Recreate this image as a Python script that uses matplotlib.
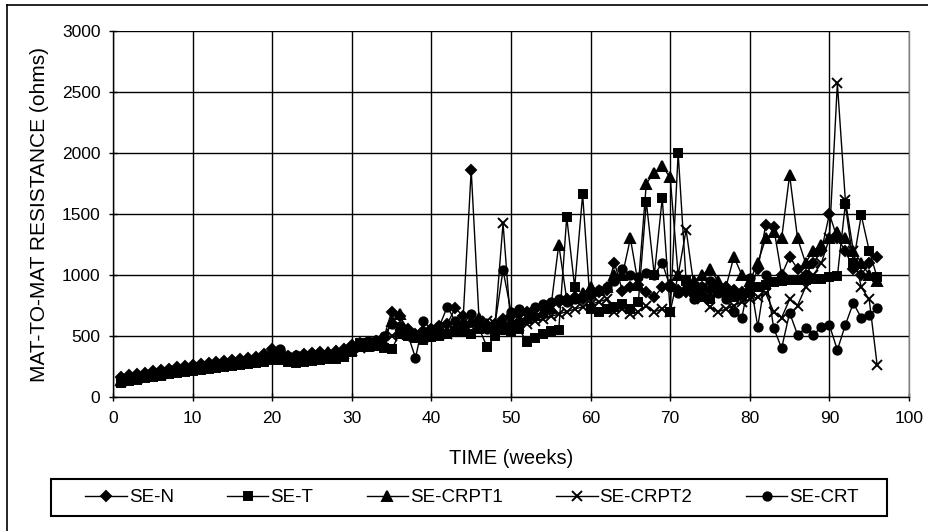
import matplotlib
matplotlib.use("Agg")
import matplotlib.pyplot as plt
from matplotlib.lines import Line2D
from matplotlib.patches import Rectangle

weeks = list(range(1, 97))

se_n = [165,178,190,200,212,222,232,242,252,262,
        270,278,286,294,302,310,318,330,350,390,
        375,335,340,350,360,365,360,375,395,425,
        440,450,460,480,700,660,560,520,540,560,
        580,600,730,660,1860,620,580,600,640,660,
        680,700,720,740,760,780,800,820,800,830,
        860,880,1100,870,900,920,860,820,900,920,
        880,860,920,900,880,920,900,880,860,880,
        1050,1410,1390,1000,1150,1050,1000,1100,1200,1500,
        1300,1200,1050,1000,1100,1150]

se_t = [115,128,140,152,165,176,186,196,206,216,
        225,233,241,248,255,262,270,277,285,300,
        305,290,282,288,296,304,312,308,325,370,
        440,430,420,400,390,520,500,480,470,490,
        500,520,540,530,520,560,410,500,550,540,
        560,450,480,520,540,550,1475,900,1660,720,
        700,720,740,760,720,780,1600,1000,1630,700,
        2000,950,860,820,800,880,860,820,840,860,
        900,920,940,950,955,960,960,965,970,980,
        990,1580,1100,1490,1200,980]

se_crpt1 = [140,152,164,176,190,200,210,220,230,240,
            250,256,264,272,280,288,296,304,320,345,
            340,325,335,345,350,357,365,377,397,410,
            415,420,430,445,620,680,520,500,510,520,
            530,540,560,580,620,650,600,580,600,620,
            640,650,670,700,730,1250,800,820,850,900,
            880,900,1000,1000,1300,920,1750,1840,1890,1800,
            1000,900,950,1000,1050,950,900,1150,1000,950,
            1100,1300,1350,1300,1820,1300,1100,1200,1250,1300,
            1350,1300,1200,1100,1000,950]

se_crpt2 = [125,138,150,162,174,184,194,206,216,226,
            236,244,252,259,266,274,282,290,300,315,
            310,300,306,314,324,330,336,344,356,378,
            400,420,440,460,500,520,510,500,480,500,
            510,520,540,560,580,600,620,600,1425,560,
            580,600,620,640,660,680,700,720,740,760,
            780,800,700,720,680,700,750,700,720,700,
            1000,1370,900,800,740,700,720,750,780,800,
            820,850,700,650,800,750,900,1000,1100,1300,
            2570,1615,1200,900,800,260]

se_crt = [150,162,175,186,200,210,220,230,240,250,
          260,266,274,280,288,296,304,312,328,355,
          390,335,342,348,352,342,335,345,365,400,
          425,455,465,500,600,580,520,320,620,560,
          580,740,620,600,680,620,560,600,1040,700,
          720,700,740,760,780,800,780,800,820,850,
          880,900,950,1050,1000,980,1020,1000,1100,900,
          850,880,800,900,950,850,800,700,650,975,
          575,1000,565,400,690,510,565,510,575,590,
          385,590,770,650,670,730]

series_names = ["SE-N", "SE-T", "SE-CRPT1", "SE-CRPT2", "SE-CRT"]
series_values = [se_n, se_t, se_crpt1, se_crpt2, se_crt]
markers = ["D", "s", "^", "x", "o"]
msizes = [5.5, 6, 6.5, 7, 6]

x_ticks = list(range(0, 101, 10))
y_ticks = list(range(0, 3001, 500))

plt.rcParams["font.family"] = ["Liberation Sans", "DejaVu Sans"]

W, H = 929, 531
fig = plt.figure(figsize=(W / 100, H / 100), dpi=100)
ax = fig.add_axes([113 / W, 1 - 397 / H, (909 - 113) / W, (397 - 31) / H])

handles = []
for name, vals, mk, ms in zip(series_names, series_values, markers, msizes):
    h, = ax.plot(weeks, vals, color="black", linewidth=1.0, marker=mk,
                 markersize=ms, markerfacecolor="black", markeredgecolor="black",
                 markeredgewidth=1.4, label=name)
    handles.append(h)

ax.set_xlim(0, 100)
ax.set_ylim(0, 3000)
ax.set_xticks(x_ticks)
ax.set_yticks(y_ticks)
ax.grid(True, color="black", linewidth=1.0)
ax.set_axisbelow(True)
for s in ["left", "bottom"]:
    ax.spines[s].set_color("black")
    ax.spines[s].set_linewidth(1.0)
ax.spines["top"].set_visible(False)
ax.spines["right"].set_color("#808080")
ax.spines["right"].set_linewidth(1.0)
ax.tick_params(axis="both", direction="inout", length=6, width=1.0,
               labelsize=12.5, colors="black")
ax.tick_params(axis="x", pad=7)
ax.tick_params(axis="y", pad=6)

ax.set_xlabel("TIME (weeks)", fontsize=14.5, labelpad=17)
ax.set_ylabel("MAT-TO-MAT RESISTANCE (ohms)", fontsize=15, labelpad=9)

# legend box frame
fig.add_artist(Rectangle((51 / W, 1 - 516 / H), (887 - 51) / W, 37 / H,
                         transform=fig.transFigure, fill=False,
                         edgecolor="black", linewidth=1.5))
leg = fig.legend(handles=handles, labels=series_names, loc="center", ncol=5,
                 bbox_to_anchor=(78 / W, 1 - 516 / H, (866 - 78) / W, 37 / H),
                 mode="expand", borderaxespad=0, frameon=False,
                 fontsize=13.5, handlelength=2.2, handletextpad=0.1,
                 borderpad=0.4)

# outer chart border (left and top edges visible in reference)
fig.add_artist(Line2D([7.5 / W, 7.5 / W], [0, 1 - 5 / H], transform=fig.transFigure,
                      color="black", linewidth=1.2))
fig.add_artist(Line2D([7.5 / W, 1], [1 - 5 / H, 1 - 5 / H], transform=fig.transFigure,
                      color="black", linewidth=1.2))

fig.savefig("out.png", dpi=100)
